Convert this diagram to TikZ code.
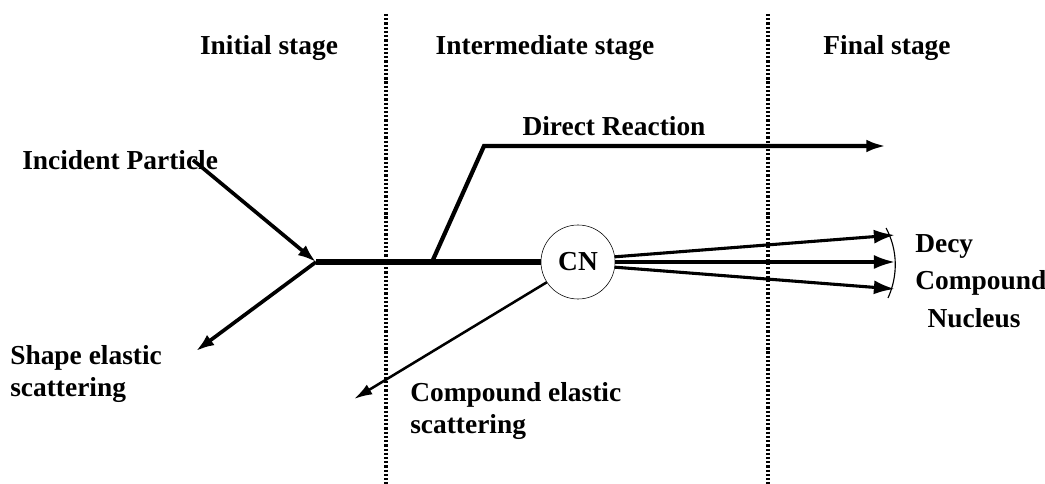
\documentclass[tikz,border=0pt]{standalone}
\usepackage{fontspec}
\setmainfont{Liberation Serif}
\usetikzlibrary{arrows.meta}
\begin{document}
\begin{tikzpicture}[x=0.025cm,y=-0.025cm,
  lbl/.style={font=\fontsize{19.5}{23}\selectfont\bfseries, inner sep=0pt},
  ray/.style={line width=2.6pt,-{Latex[length=13pt,width=9pt]}},
  decay/.style={line width=2.2pt,-{Latex[length=15pt,width=10pt]}},
  border/.style={line width=2.4pt, dash pattern=on 1.6pt off 1.4pt}]
\useasboundingbox (0,0) rectangle (1045,484);
\draw [border] (386,14) -- (386,484);
\draw [border] (768,14) -- (768,484);
\node [lbl] (initial) at (269,48) {Initial stage};
\node [lbl] (inter) at (545,48) {Intermediate stage};
\node [lbl] (final) at (887,48) {Final stage};
\node [lbl, anchor=west] (incident) at (22,160) {Incident Particle};
\node [lbl] (direct) at (614,126) {Direct Reaction};
\node [draw, circle, thin, minimum size=1.85cm, inner sep=0pt, lbl] (cn) at (578,262) {CN};
\node [lbl, anchor=west, align=left] (shape) at (10,374) {Shape elastic\\scattering};
\node [lbl, anchor=west, align=left] (compel) at (410,411) {Compound elastic\\scattering};
\node [lbl, anchor=west, align=left, font=\fontsize{19.5}{26.5}\selectfont\bfseries] (nucleus) at (915,281) {Decy\\Compound\\\hspace{0.45em}Nucleus};
\coordinate (inc) at (193,160);
\coordinate (hit) at (316,262);
\coordinate (fork) at (432,262);
\coordinate (bend) at (484,146);
\coordinate (drend) at (886,146);
\coordinate (shend) at (196,351);
\coordinate (ceend) at (354,399);
\draw [ray] (inc) -- (hit);
\draw [line width=3.6pt] (hit) -- (cn.west);
\draw [ray] (hit) -- (shend);
\draw [line width=3pt, -{Latex[length=14pt,width=9pt]}] (fork) -- (bend) -- (drend);
\draw [line width=1.8pt, -{Latex[length=13pt,width=8pt]}] (cn.213) -- (ceend);
\draw [decay] (cn.8) -- (895,235);
\draw [decay] (cn.east) -- (895,262);
\draw [decay] (cn.-8) -- (895,289);
\draw [line width=0.8pt] (886,228) .. controls (898,250) and (898,276) .. (888,298);
\end{tikzpicture}
\end{document}
